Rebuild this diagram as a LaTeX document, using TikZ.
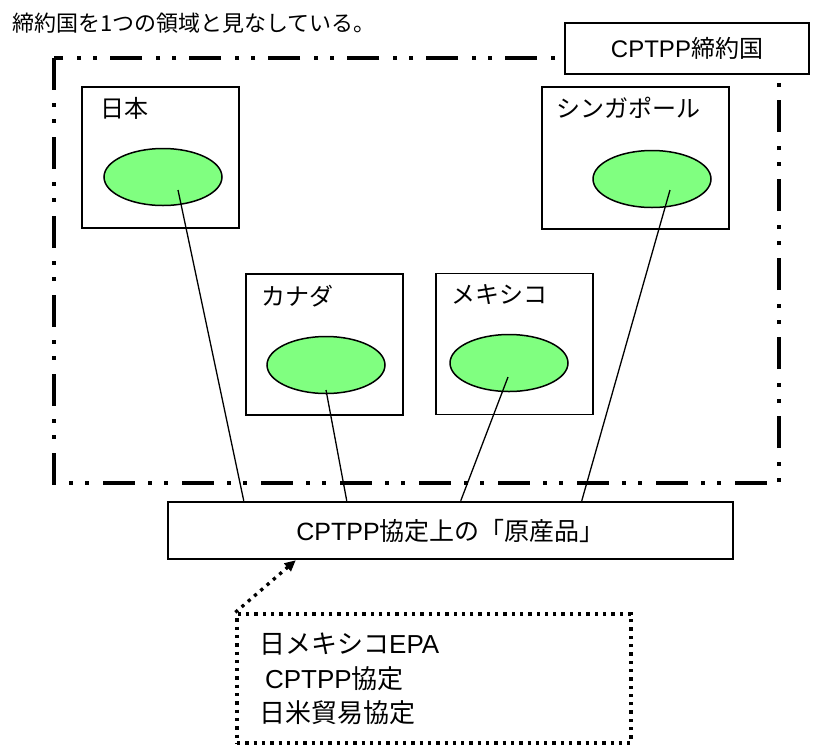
\documentclass[tikz,border=0pt]{standalone}
\usepackage{fontspec}
\setmainfont{Noto Sans CJK JP}
\newfontfamily\latin{Liberation Sans}
\usetikzlibrary{arrows.meta,shapes.geometric}
\definecolor{regiongreen}{HTML}{80FF80}

\begin{document}
\begin{tikzpicture}[x=1pt, y=-1pt,
    every node/.style={font=\fontsize{24}{34}\selectfont},
    nametag/.style={anchor=west, inner sep=0pt},
    countrybox/.style={draw, line width=1.5pt, minimum width=157pt, minimum height=141pt, inner sep=0pt},
    region/.style={draw, ellipse, fill=regiongreen, line width=1.5pt, minimum width=118pt, minimum height=57pt, inner sep=0pt},
    dotline/.style={line width=3.3pt, dash pattern=on 3.3pt off 5pt}]
      \useasboundingbox (0,0) rectangle (827,750);
      % heading
      \node[nametag, font=\fontsize{22}{30}\selectfont] (title) at (12,23) {締約国を1つの領域と見なしている。};
      % CPTPP area
      \draw[line width=4.5pt, dash pattern=on 32pt off 13pt on 4pt off 12pt on 4pt off 14pt] (54,58) rectangle (779,483);
      \node[draw, fill=white, line width=2pt, minimum width=244pt, minimum height=51pt] (members) at (687,48.5) {{\latin CPTPP}締約国};
      % Japan
      \node[countrybox] (jpbox) at (160.5,157.5) {};
      \node[nametag] (jptag) at (100,108) {日本};
      \node[region] (jp) at (163,177) {};
      % Singapore
      \node[countrybox, minimum width=187pt, minimum height=142pt] (sgbox) at (635.5,158) {};
      \node[nametag] (sgtag) at (556,108) {シンガポール};
      \node[region] (sg) at (652,179) {};
      % Canada
      \node[countrybox] (cabox) at (324.5,344.5) {};
      \node[nametag] (catag) at (261,296) {カナダ};
      \node[region] (ca) at (326,365) {};
      % Mexico
      \node[countrybox] (mxbox) at (514.5,344) {};
      \node[nametag] (mxtag) at (451,295) {メキシコ};
      \node[region] (mx) at (509,363) {};
      % originating goods
      \node[draw, line width=2.5pt, minimum width=565pt, minimum height=57pt, font=\fontsize{25}{34}\selectfont] (goods) at (450.5,530.5) {{\latin CPTPP}協定上の「原産品」};
      \draw[line width=1.3pt] ([shift={(15,13)}]jp.center) -- ([xshift=77pt]goods.north west);
      \draw[line width=1.3pt] ([shift={(0,25)}]ca.center) -- ([xshift=180pt]goods.north west);
      \draw[line width=1.3pt] ([shift={(-1,14)}]mx.center) -- ([xshift=294pt]goods.north west);
      \draw[line width=1.3pt] ([shift={(18,11)}]sg.center) -- ([xshift=415pt]goods.north west);
      % agreements
      \node[draw, dotline, minimum width=394pt, minimum height=129pt] (agreements) at (434,678.5) {};
      \node[nametag, align=left, font=\fontsize{26}{34.5}\selectfont] (agreetext) at (259,679) {日メキシコ{\latin EPA}\\\ {\latin CPTPP}協定\\日米貿易協定};
      \draw[dotline, -{Triangle[length=11pt, width=10pt]}] (agreements.north west) -- ([xshift=129pt]goods.south west);
\end{tikzpicture}
\end{document}
